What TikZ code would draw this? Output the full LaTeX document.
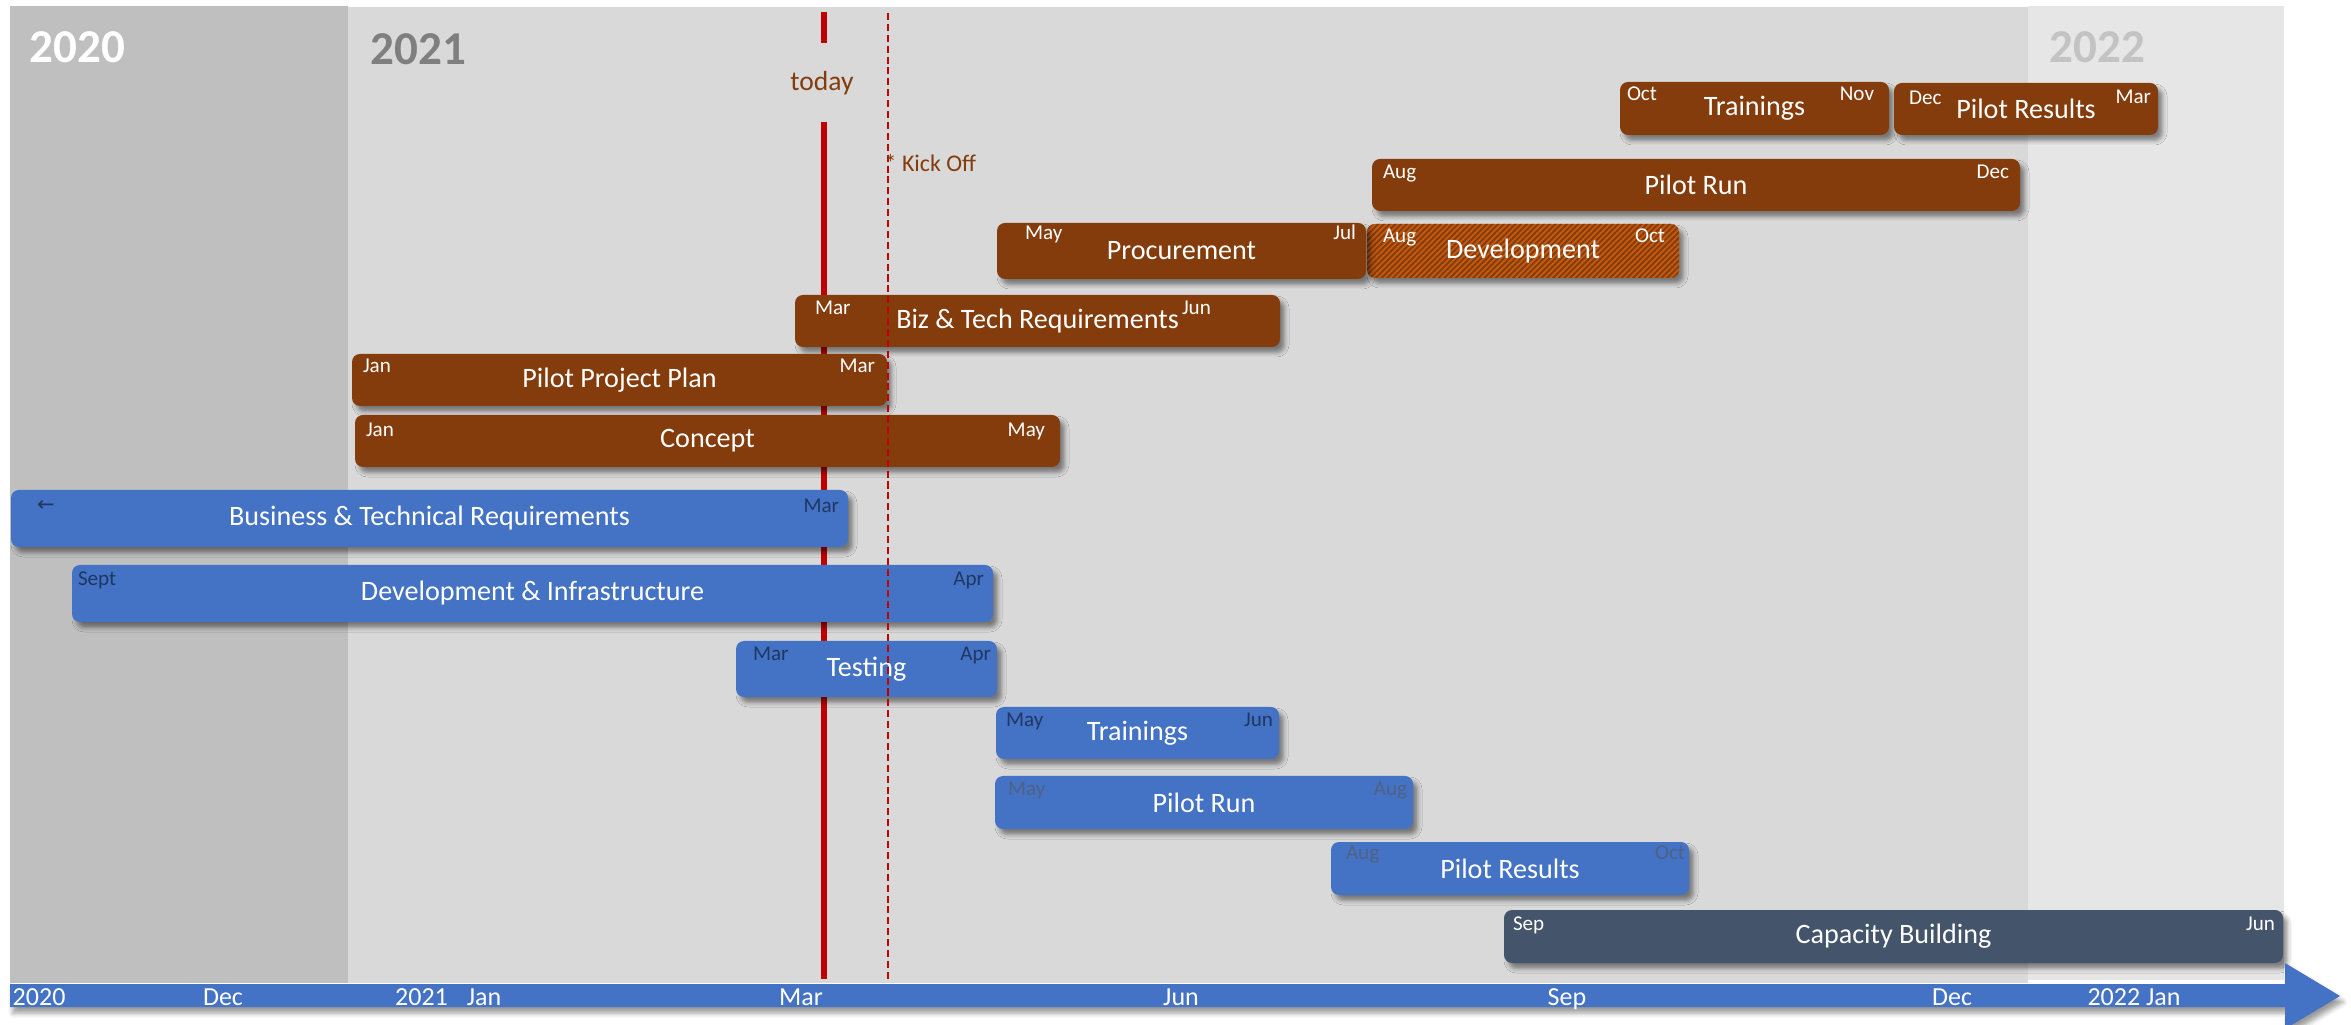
\documentclass[tikz,border=0pt]{standalone}
\usepackage{fontspec}
\setmainfont{Carlito}
\newfontfamily\symfont{DejaVu Sans}
\usetikzlibrary{calc,shadows.blur,patterns.meta}

\definecolor{cPanelA}{HTML}{BFBFBF}
\definecolor{cPanelB}{HTML}{D9D9D9}
\definecolor{cPanelC}{HTML}{E6E6E6}
\definecolor{cBrown}{HTML}{843C0C}
\definecolor{cOrange}{HTML}{C55A11}
\definecolor{cBlue}{HTML}{4472C4}
\definecolor{cSlate}{HTML}{44546A}
\definecolor{cRed}{HTML}{C00000}
\definecolor{cTagDark}{HTML}{1F3864}
\definecolor{cTagGray}{HTML}{4E6283}
\definecolor{cYearB}{HTML}{7F7F7F}
\definecolor{cYearC}{HTML}{C3C3C3}

\newcommand\fMain{\fontsize{8}{9}\selectfont}
\newcommand\fTag{\fontsize{6}{7}\selectfont}
\newcommand\fYear{\bfseries\fontsize{13.4}{15}\selectfont}
\newcommand\fAxis{\fontsize{7.4}{8.5}\selectfont}

\tikzset{
  bar/.style={rectangle, rounded corners=0.8mm, inner sep=0pt, outer sep=0pt,
    text=white, font=\fMain,
    blur shadow={shadow xshift=0.45mm, shadow yshift=-0.55mm,
      shadow blur radius=0.45mm, shadow opacity=45}},
  brownbox/.style={bar, fill=cBrown},
  hatchbox/.style={bar, preaction={fill=cOrange},
    pattern={Lines[angle=45, distance=1.15pt, line width=0.55pt]},
    pattern color=cBrown},
  bluebox/.style={bar, fill=cBlue},
  slatebox/.style={bar, fill=cSlate},
  tag/.style={inner sep=0pt, outer sep=0pt, font=\fTag, text=white},
  tagl/.style={tag, anchor=base west},
  tagr/.style={tag, anchor=base east},
  axislabel/.style={inner sep=0pt, text=white, font=\fAxis, anchor=base},
  yearlabel/.style={inner sep=0pt, font=\fYear, anchor=base west},
  kickline/.style={draw=cRed, line width=0.45pt, dash pattern=on 2pt off 1.1pt},
}

\begin{document}
\begin{tikzpicture}[x=0.1mm, y=-0.1mm]
\useasboundingbox (0,0) rectangle (2351,1025);

% year panels
\fill[cPanelA] (10,6) rectangle (348,983);
\fill[cPanelB] (348,7) rectangle (2028,983);
\fill[cPanelC] (2028,6) rectangle (2284,980);

% today marker (behind the bars)
\coordinate (tdA) at (824,12);
\coordinate (tdB) at (824,43);
\coordinate (tdC) at (824,122);
\coordinate (tdD) at (824,979);
\draw[draw=cRed, line width=0.6mm] (tdA) -- (tdB) (tdC) -- (tdD);
\node[inner sep=0pt, text=cBrown, font=\fontsize{7.85}{9}\selectfont] (today) at (822,83) {today};

% year headings
\node[yearlabel, text=white] (y20) at (29,63) {2020};
\node[yearlabel, text=cYearB] (y21) at (370,65) {2021};
\node[yearlabel, text=cYearC] (y22) at (2049,63) {2022};

% brown work packages
\node[brownbox, minimum width=26.9mm, minimum height=5.3mm] (trainB) at (1754.5,108.5) {Trainings};
\node[tagl] (trainBs) at ($(trainB.north west)+(7,19)$) {Oct};
\node[tagr] (trainBe) at ($(trainB.north east)+(-15,19)$) {Nov};

\node[brownbox, minimum width=26.4mm, minimum height=5.2mm] (resB) at (2026,109) {Pilot Results};
\node[tagl] (resBs) at ($(resB.north west)+(15,22)$) {Dec};
\node[tagr] (resBe) at ($(resB.north east)+(-7,21)$) {Mar};

\node[brownbox, minimum width=64.8mm, minimum height=5.2mm] (runB) at (1696,185) {Pilot Run};
\node[tagl] (runBs) at ($(runB.north west)+(11,20)$) {Aug};
\node[tagr] (runBe) at ($(runB.north east)+(-11,20)$) {Dec};

\node[hatchbox, minimum width=31.2mm, minimum height=5.4mm] (devB) at (1523,251) {Development};
\node[tagl] (devBs) at ($(devB.north west)+(16,19)$) {Aug};
\node[tagr] (devBe) at ($(devB.north east)+(-14,19)$) {Oct};

\node[brownbox, minimum width=36.9mm, minimum height=5.6mm] (proc) at (1181.5,251) {Procurement};
\node[tagl] (procS) at ($(proc.north west)+(28,17)$) {May};
\node[tagr] (procE) at ($(proc.north east)+(-10,17)$) {Jul};

\node[brownbox, minimum width=48.5mm, minimum height=5.2mm] (biz) at (1037.5,321) {Biz \& Tech Requirements};
\node[tagl] (bizS) at ($(biz.north west)+(20,20)$) {Mar};
\node[tagl] (bizE) at ($(biz.north west)+(387,20)$) {Jun};

\node[brownbox, minimum width=53.5mm, minimum height=5.2mm] (plan) at (619.5,380) {Pilot Project Plan};
\node[tagl] (planS) at ($(plan.north west)+(11,19)$) {Jan};
\node[tagr] (planE) at ($(plan.north east)+(-12,19)$) {Mar};

\node[brownbox, minimum width=70.5mm, minimum height=5.2mm] (concept) at (707.5,441) {Concept};
\node[tagl] (conceptS) at ($(concept.north west)+(11,22)$) {Jan};
\node[tagr] (conceptE) at ($(concept.north east)+(-15,22)$) {May};

% blue work packages
\node[bluebox, minimum width=83.7mm, minimum height=5.7mm] (btr) at (429.5,518.5) {Business \& Technical Requirements};
\node[inner sep=0pt, text=cTagDark, font=\symfont\fontsize{6}{7}\selectfont] (btrS) at (46,506) {←};
\node[tagr, text=cTagDark] (btrE) at ($(btr.north east)+(-9,23)$) {Mar};

\node[bluebox, minimum width=92.1mm, minimum height=5.7mm] (dni) at (532.5,593.5) {Development \& Infrastructure};
\node[tagl, text=cTagDark] (dniS) at ($(dni.north west)+(6,21)$) {Sept};
\node[tagr, text=cTagDark] (dniE) at ($(dni.north east)+(-9,21)$) {Apr};

\node[bluebox, minimum width=26.1mm, minimum height=5.6mm] (test) at (866.5,669) {Testing};
\node[tagl, text=cTagDark] (testS) at ($(test.north west)+(17,20)$) {Mar};
\node[tagr, text=cTagDark] (testE) at ($(test.north east)+(-6,20)$) {Apr};

\node[bluebox, minimum width=28.3mm, minimum height=5.2mm] (trainA) at (1137.5,733) {Trainings};
\node[tagl, text=cTagDark] (trainAs) at ($(trainA.north west)+(10,20)$) {May};
\node[tagr, text=cTagDark] (trainAe) at ($(trainA.north east)+(-6,20)$) {Jun};

\node[bluebox, minimum width=41.8mm, minimum height=5.3mm] (runA) at (1204,802.5) {Pilot Run};
\node[tagl, text=cTagGray] (runAs) at ($(runA.north west)+(13,19)$) {May};
\node[tagr, text=cTagGray] (runAe) at ($(runA.north east)+(-6,19)$) {Aug};

\node[bluebox, minimum width=35.8mm, minimum height=5.3mm] (resA) at (1510,868.5) {Pilot Results};
\node[tagl, text=cTagGray] (resAs) at ($(resA.north west)+(15,18)$) {Aug};
\node[tagr, text=cTagGray] (resAe) at ($(resA.north east)+(-4,18)$) {Oct};

\node[slatebox, minimum width=77.9mm, minimum height=5.3mm] (cap) at (1893.5,936.5) {Capacity Building};
\node[tagl] (capS) at ($(cap.north west)+(9,20)$) {Sep};
\node[tagr] (capE) at ($(cap.north east)+(-8,20)$) {Jun};

% kick-off marker (in front of the bars)
\coordinate (koTop) at (888,13);
\coordinate (koBot) at (888,982);
\draw[kickline] (koTop) -- (koBot);
\node[inner sep=0pt, anchor=base west, text=cBrown, font=\fontsize{6.8}{8}\selectfont] (kick) at (884,172) {* Kick Off};

% time axis
\fill[cBlue, blur shadow={shadow xshift=0.3mm, shadow yshift=-0.6mm, shadow blur radius=0.5mm, shadow opacity=40}]
  (10,984) -- (2285,984) -- (2285,963) -- (2340,996) -- (2285,1029) -- (2285,1007) -- (10,1007) -- cycle;
\node[axislabel, anchor=base west] (ax2020) at (12,1005) {2020};
\node[axislabel] (axDec) at (223,1005) {Dec};
\node[axislabel] (ax2021) at (421.5,1005) {2021};
\node[axislabel] (axJan) at (484,1005) {Jan};
\node[axislabel] (axMar) at (801,1005) {Mar};
\node[axislabel] (axJun) at (1181,1005) {Jun};
\node[axislabel] (axSep) at (1567,1005) {Sep};
\node[axislabel] (axDec2) at (1952,1005) {Dec};
\node[axislabel] (ax2022) at (2134,1005) {2022 Jan};
\end{tikzpicture}
\end{document}
